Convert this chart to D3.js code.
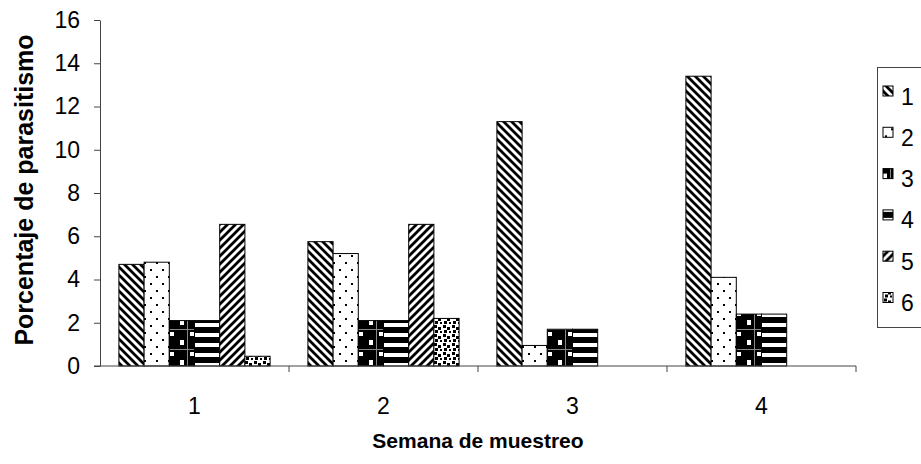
<!DOCTYPE html>
<html>
<head>
<meta charset="utf-8">
<script src="https://cdn.jsdelivr.net/npm/d3@7"></script>
<style>
  html, body { margin: 0; padding: 0; background: #fff; }
  svg { display: block; font-family: "Liberation Sans", Arial, sans-serif; }
</style>
</head>
<body>
<svg id="chart" width="921" height="464"></svg>
<script>
// ---- data ----
const categories = ["1", "2", "3", "4"];
const seriesNames = ["1", "2", "3", "4", "5", "6"];
const s1 = [4.7, 5.75, 11.3, 13.4];
const s2 = [4.8, 5.2, 0.95, 4.1];
const s3 = [2.1, 2.1, 1.7, 2.4];
const s4 = [2.1, 2.1, 1.7, 2.4];
const s5 = [6.55, 6.55, 0, 0];
const s6 = [0.45, 2.2, 0, 0];
const yTicks = [0, 2, 4, 6, 8, 10, 12, 14, 16];
const seriesValues = [s1, s2, s3, s4, s5, s6];

const svg = d3.select("#chart");
const defs = svg.append("defs");

// ---- patterns ----
function pat(id, w, h) {
  return defs.append("pattern").attr("id", id)
    .attr("patternUnits", "userSpaceOnUse").attr("width", w).attr("height", h);
}
// 1: "\" diagonal stripes
let p = pat("p1", 8, 8);
p.append("rect").attr("width", 8).attr("height", 8).attr("fill", "#fff");
p.append("path").attr("d", "M-1,-1 L9,9 M-1,7 L1,9 M7,-1 L9,1")
  .attr("stroke", "#000").attr("stroke-width", 2.8);
// 2: sparse dots
p = pat("p2", 12, 14);
p.append("rect").attr("width", 12).attr("height", 14).attr("fill", "#fff");
p.append("rect").attr("x", 2).attr("y", 3).attr("width", 2).attr("height", 2).attr("fill", "#000");
p.append("rect").attr("x", 8).attr("y", 10).attr("width", 2).attr("height", 2).attr("fill", "#000");
// 3: black with white squares and grey grid
p = pat("p3", 20, 20);
p.append("rect").attr("width", 20).attr("height", 20).attr("fill", "#000");
p.append("rect").attr("x", 0).attr("y", 0).attr("width", 4).attr("height", 5).attr("fill", "#fff");
p.append("rect").attr("x", 10).attr("y", 12).attr("width", 4).attr("height", 4).attr("fill", "#fff");
p.append("path").attr("d", "M7.5,0 V20 M0,9.5 H20").attr("stroke", "#888").attr("stroke-width", 1);
// 4: horizontal stripes
p = pat("p4", 10, 10);
p.append("rect").attr("width", 10).attr("height", 10).attr("fill", "#000");
p.append("rect").attr("y", 3).attr("width", 10).attr("height", 4).attr("fill", "#fff");
// 5: "/" diagonal stripes
p = pat("p5", 8, 8);
p.append("rect").attr("width", 8).attr("height", 8).attr("fill", "#fff");
p.append("path").attr("d", "M-1,9 L9,-1 M-1,1 L1,-1 M7,9 L9,7")
  .attr("stroke", "#000").attr("stroke-width", 2.8);
// 6: confetti squares
p = pat("p6", 9, 9);
p.append("rect").attr("width", 9).attr("height", 9).attr("fill", "#fff");
p.append("rect").attr("x", 1).attr("y", 1).attr("width", 3).attr("height", 3).attr("fill", "#000");
p.append("rect").attr("x", 5).attr("y", 3).attr("width", 3).attr("height", 3).attr("fill", "#000");
p.append("rect").attr("x", 2).attr("y", 6).attr("width", 3).attr("height", 3).attr("fill", "#000");
p.append("rect").attr("x", 7).attr("y", 7).attr("width", 2).attr("height", 2).attr("fill", "#000");

const patIds = ["p1", "p2", "p3", "p4", "p5", "p6"];

// ---- scales ----
const x0 = d3.scaleBand().domain(categories).range([100, 856]).padding(0);
const x1 = d3.scaleBand().domain(seriesNames).range([0, x0.bandwidth()])
  .paddingInner(0).paddingOuter(0.75);
const y = d3.scaleLinear().domain([0, 16]).range([366, 20]);

// ---- bars ----
const groups = svg.append("g").selectAll("g").data(categories).join("g")
  .attr("transform", d => `translate(${x0(d)},0)`);
groups.selectAll("rect")
  .data((c, ci) => seriesNames.map((s, si) => ({ s, si, v: seriesValues[si][ci] })).filter(d => d.v > 0))
  .join("rect")
  .attr("x", d => x1(d.s))
  .attr("y", d => y(d.v))
  .attr("width", x1.bandwidth())
  .attr("height", d => y(0) - y(d.v))
  .attr("fill", d => `url(#${patIds[d.si]})`)
  .attr("stroke", "#000").attr("stroke-width", 1);

// ---- axes ----
const yAxis = svg.append("g").attr("transform", "translate(100,0)")
  .call(d3.axisLeft(y).tickValues(yTicks).tickSize(6).tickPadding(14).tickSizeOuter(0));
yAxis.select(".domain").attr("stroke", "#444");
yAxis.selectAll(".tick line").attr("stroke", "#444");
yAxis.selectAll("text").attr("font-size", 23).attr("fill", "#000")
  .attr("font-family", "Liberation Sans, Arial, sans-serif");

const xAxisG = svg.append("g").attr("transform", `translate(0,${y(0)})`);
xAxisG.append("line").attr("x1", 94).attr("x2", 856).attr("y1", 0).attr("y2", 0).attr("stroke", "#444");
const bounds = categories.map(c => x0(c)).concat([x0(categories[categories.length - 1]) + x0.bandwidth()]);
xAxisG.selectAll("line.tk").data(bounds.slice(1)).join("line").attr("class", "tk")
  .attr("x1", d => d).attr("x2", d => d).attr("y1", 0).attr("y2", 6).attr("stroke", "#444");
xAxisG.selectAll("text").data(categories).join("text")
  .attr("x", d => x0(d) + x0.bandwidth() / 2).attr("y", 48)
  .attr("text-anchor", "middle").attr("font-size", 23).text(d => d);

// ---- titles ----
svg.append("text").attr("x", 478).attr("y", 448).attr("text-anchor", "middle")
  .attr("font-size", 21).attr("font-weight", "bold").text("Semana de muestreo");
svg.append("text").attr("transform", "translate(33,190) rotate(-90)").attr("text-anchor", "middle")
  .attr("font-size", 25).attr("font-weight", "bold").text("Porcentaje de parasitismo");

// ---- legend ----
const lg = svg.append("g");
lg.append("rect").attr("x", 877.5).attr("y", 67.5).attr("width", 60).attr("height", 260)
  .attr("fill", "#fff").attr("stroke", "#444");
const items = lg.selectAll("g").data(seriesNames).join("g")
  .attr("transform", (d, i) => `translate(883,${91 + i * 41.3})`);
items.append("rect").attr("x", 0).attr("y", -5).attr("width", 10).attr("height", 10)
  .attr("fill", (d, i) => `url(#${patIds[i]})`).attr("stroke", "#000");
items.append("text").attr("x", 18).attr("y", 13.5).attr("font-size", 23).text(d => d);
</script>
</body>
</html>
